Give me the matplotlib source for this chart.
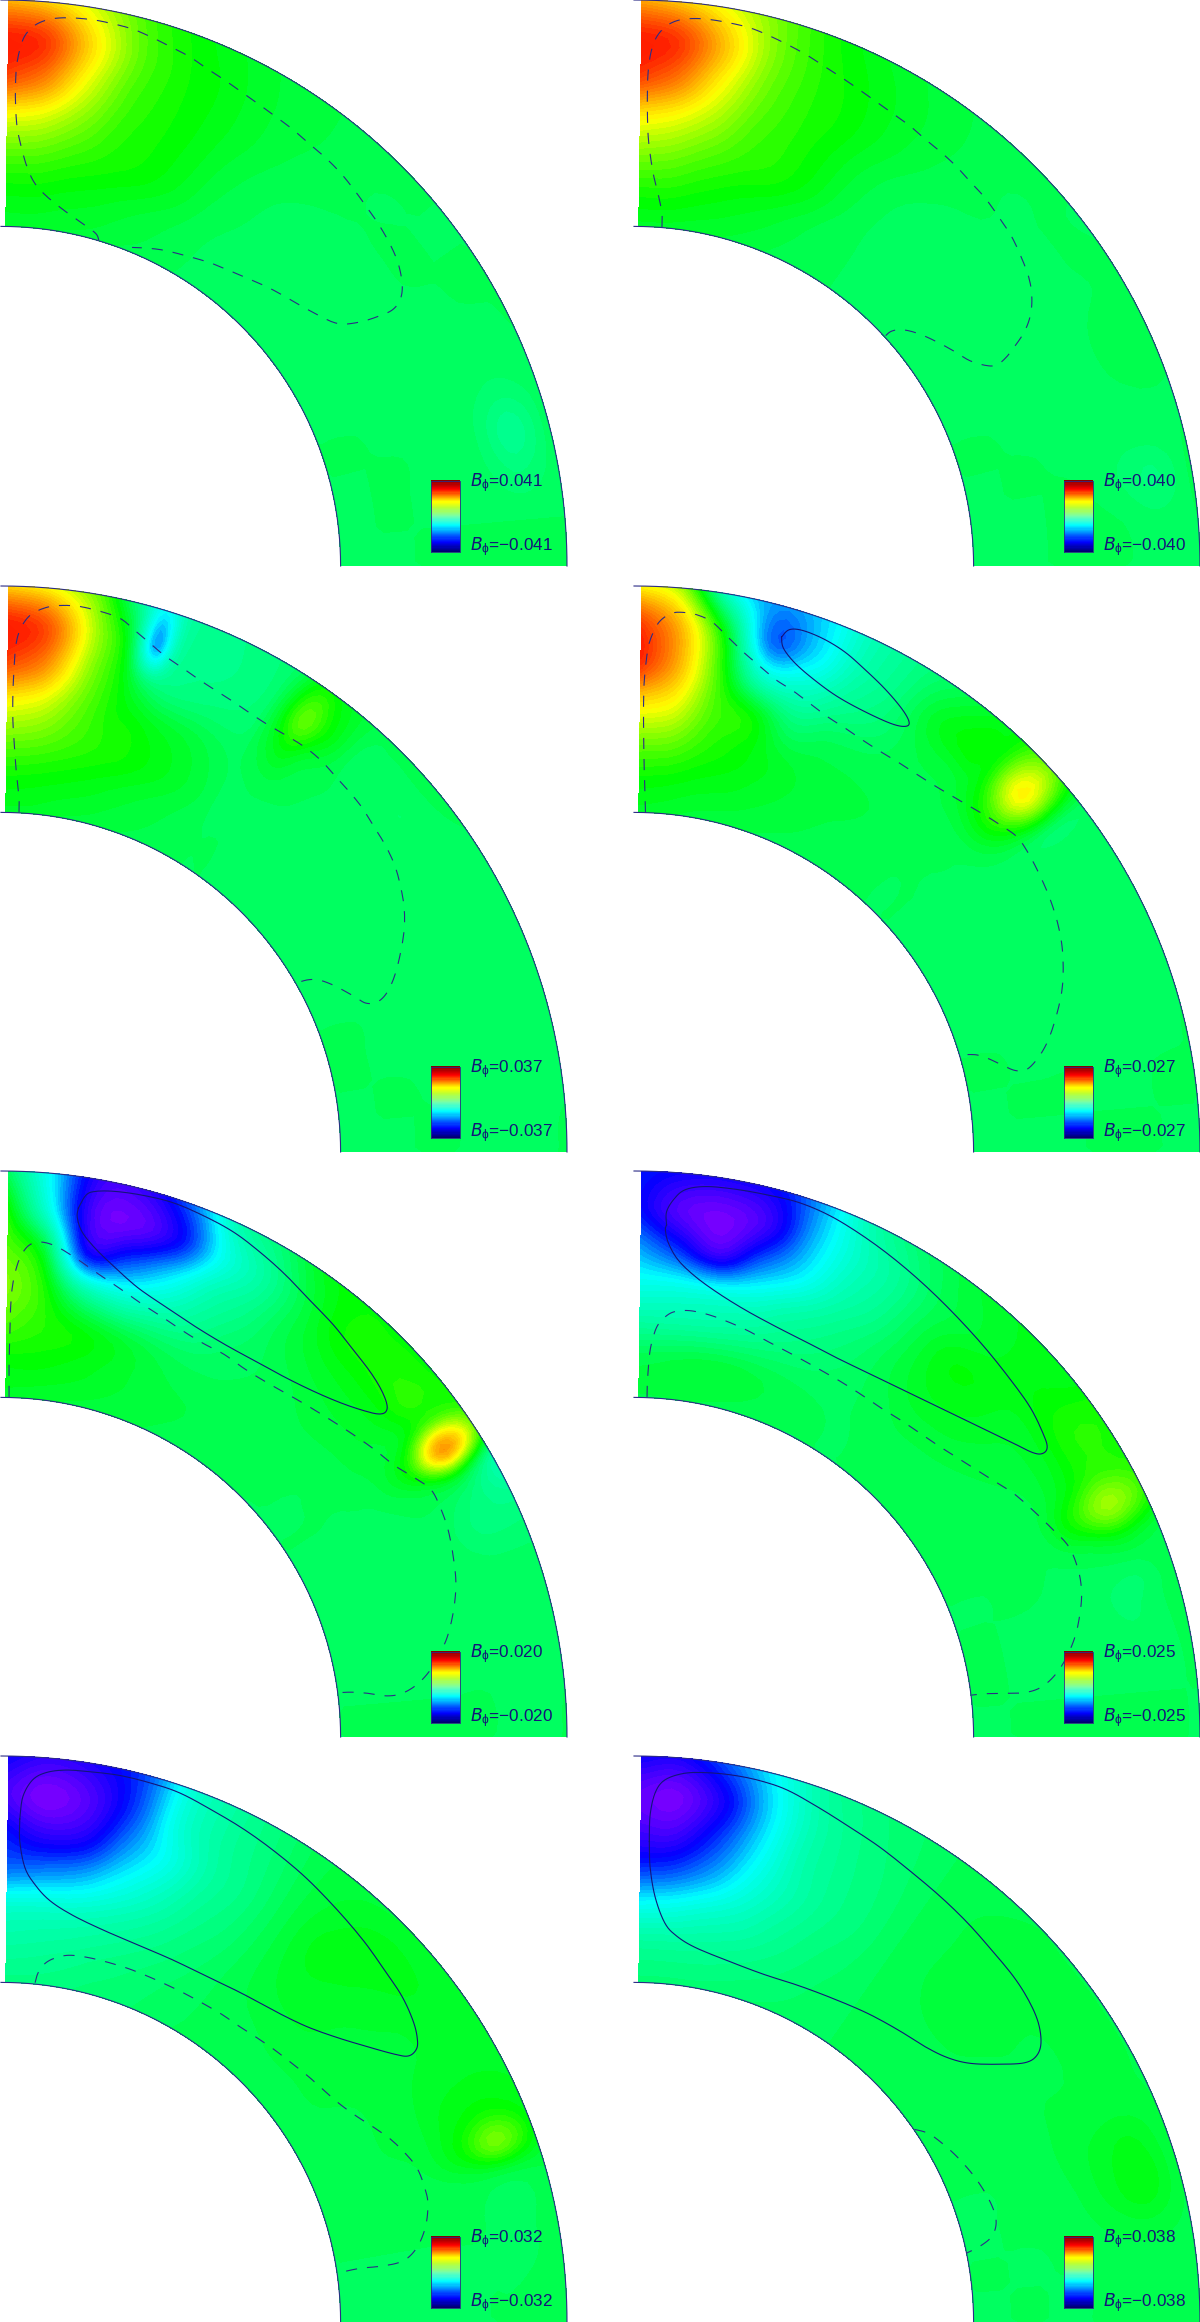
#!/usr/bin/env python3
# -*- coding: utf-8 -*-
'''
B_phi maps in the meridional quadrant, 4 rows x 2 columns.
Field values are given in percent of the panel maximum, read off the picture.
'''
import numpy as np
import matplotlib
matplotlib.use('Agg')
import matplotlib.pyplot as plt
from matplotlib.colors import LinearSegmentedColormap

plt.rcParams['mathtext.default'] = 'regular'

WIDTH, HEIGHT = 1200, 2322
R_OUT = 566.0

# grid nodes: colatitude (deg) along the columns, radius (outer=1) along the rows
THETA = [0.8, 5, 10, 15, 20, 25, 30, 35, 40, 45, 50, 55, 60, 65, 70, 75, 80, 85, 90]
# panels with narrow spots have a few more nodes around them
THETA_3 = [0.8, 5, 10, 14, 17, 20, 25, 30, 32, 35, 38, 42, 45, 50, 55, 60, 65, 70, 75, 80, 85, 90]
THETA_4 = [0.8, 5, 10, 15, 20, 25, 30, 35, 40, 43, 47.5, 52, 55, 60, 65, 70, 75, 80, 85, 90]
THETA_5 = [0.8, 5, 10, 15, 20, 25, 30, 35, 40, 45, 50, 53.5, 57, 60.5, 65, 70, 75, 80, 85, 90]
THETA_6 = [0.8, 5, 10, 15, 20, 25, 30, 35, 40, 45, 50, 55, 60, 64, 68, 72, 75, 80, 85, 90]
THETA_7 = [0.8, 5, 10, 15, 20, 25, 30, 35, 40, 45, 50, 55, 60, 66, 70, 74, 80, 85, 90]
RADIUS = [1.0, 0.933, 0.867, 0.8, 0.733, 0.667, 0.6]

FIELD_1 = [[65, 58, 42, 24, 15, 10, 6, 4, 2, 1, 0, 0, 0, 0, -1, -1, -1, 0, 0],
           [100, 93, 56, 28, 17, 12, 7, 4, 2, 0, 0, 0, 0, -1, -4, -12, -6, 0, 0],
           [90, 78, 47, 25, 17, 12, 7, 3, 1, 0, 0, 0, -1, -1, -2, -3, -2, 0, 0],
           [50, 46, 33, 21, 16, 11, 5, 1, -1, -2, -2, -2, -2, -2, -1, -1, -1, 0, 0],
           [27, 26, 21, 17, 14, 9, 3, 0, -1, -2, -2, -2, -2, -2, -1, 0, 0, 0, 0],
           [14, 14, 12, 10, 7, 4, 1, -1, -1, -1, -1, -1, -1, -1, 0, 0, 0, 0, 0],
           [7, 7, 6, 5, 3, 2, 0, 0, 0, 0, 0, 0, 0, 0, 0, 0, 0, 0, 0]]
FIELD_2 = [[68, 60, 46, 30, 18, 11, 7, 4, 2, 1, 0, 0, 0, 0, 0, 0, 1, 0, 0],
           [100, 93, 62, 33, 20, 14, 9, 5, 2, 0, 0, 0, 0, 1, 0, -1, -7, -2, 0],
           [92, 80, 52, 30, 20, 15, 9, 4, 1, 0, -1, -1, -1, -1, -1, -2, -3, 0, 0],
           [55, 50, 38, 25, 19, 13, 6, 1, -1, -2, -2, -2, -2, -2, -2, -1, 0, 1, 0],
           [33, 31, 25, 20, 17, 11, 4, 0, -1, -2, -2, -2, -2, -2, -1, 0, 0, 0, 0],
           [18, 18, 15, 12, 9, 5, 1, 0, -1, -1, -1, -1, -1, -1, 0, 0, 0, 0, 0],
           [8, 8, 7, 6, 4, 2, 1, 0, 0, 0, 0, 0, 0, 0, 0, 0, 0, 0, 0]]
FIELD_3 = [[58, 50, 28, -8, -40, -15, -10, -6, -1, 15, 10, 2, 1, 2, 0, -2, 0, -2, 0, -2, 0, 0],
           [100, 88, 40, 8, -52, -14, -10, -6, 4, 27, 14, -1, -2, -3, -2, -3, -2, -3, -2, -3, -1, 0],
           [90, 76, 36, 15, -5, -8, -6, -4, 3, 12, 4, 0, -1, -2, 0, -2, -1, -2, 0, -2, -1, 0],
           [52, 46, 28, 17, 13, 9, 5, 0, 0, 2, 1, -1, -1, -2, -2, -2, -2, -2, -2, -1, 0, 0],
           [30, 28, 22, 18, 16, 13, 8, 2, -1, -1, -2, -2, -3, -3, -3, -2, -2, -1, -1, 0, 0, 0],
           [16, 15, 13, 11, 9, 7, 4, 1, 0, 0, -1, -2, -2, -2, -2, -1, -1, 0, 0, 0, 0, 0],
           [8, 8, 6, 5, 4, 3, 2, 1, 0, 0, 0, 0, 0, 0, 0, 0, 0, 0, 0, 0, 0, 0]]
FIELD_4 = [[50, 35, -30, -55, -45, -22, -10, 0, 10, 14, 30, 0, -1, -2, -1, -1, 0, 0, 0, 0],
           [92, 65, 10, -60, -45, -20, -8, 8, 15, 16, 52, 0, -2, -2, -2, -1, -1, 0, 0, 0],
           [96, 68, 22, -25, -25, -12, -5, 3, 5, 10, 22, 0, -1, -2, -1, -1, -1, -1, 0, 0],
           [58, 50, 25, 14, -4, 0, 1, 2, 2, 2, 3, -1, -2, -2, -2, -2, -1, 0, 0, 0],
           [32, 30, 20, 14, 8, 5, 4, 3, 2, 1, 0, -2, -3, -3, -2, -2, -1, 0, 0, 0],
           [16, 15, 12, 10, 7, 5, 3, 2, 1, 0, 0, -1, -2, -2, -1, -1, 0, 0, 0, 0],
           [8, 7, 5, 4, 3, 2, 1, 0, 0, 0, 0, 0, 0, 0, 0, 0, 0, 0, 0, 0]]
FIELD_5 = [[-3, -40, -85, -85, -60, -20, -5, 10, 15, 15, 15, 18, 28, -18, -10, -3, -3, -1, 0, 0],
           [15, -30, -90, -95, -75, -35, -15, 3, 15, 17, 20, 22, 72, 5, -8, -3, -3, -2, -1, 0],
           [25, 5, -75, -65, -45, -22, -10, 2, 8, 10, 10, 8, 20, 3, -2, -2, -2, -1, 0, 0],
           [32, 20, -15, -25, -20, -12, -4, 0, 3, 5, 5, 4, 3, 0, -1, -2, -2, -1, 0, 0],
           [25, 20, 14, 8, 3, 0, 0, 1, 2, 2, 1, 1, 0, -1, -2, -2, -1, -1, 0, 0],
           [14, 14, 12, 9, 6, 4, 3, 2, 2, 1, 0, 0, 0, -1, -1, -2, -2, -1, 0, 0],
           [8, 7, 6, 5, 4, 3, 2, 1, 1, 0, 0, 0, 0, 0, 0, 0, 0, 0, 0, 0]]
FIELD_6 = [[-72, -78, -80, -75, -50, -20, -6, 3, 8, 10, 10, 18, 18, 22, 3, 3, 3, 1, 0, 0],
           [-75, -92, -98, -85, -50, -26, -13, 0, 6, 10, 13, 18, 20, 36, 8, -3, -3, -2, 0, 0],
           [-55, -70, -88, -62, -42, -22, -11, 2, 12, 12, 8, 8, 10, 18, 3, -2, -3, -2, 0, 0],
           [-35, -35, -35, -30, -20, -12, -5, 3, 9, 9, 6, 4, 2, 2, 0, -1, -2, -1, 0, 0],
           [-16, -16, -15, -12, -8, -5, -2, 1, 4, 4, 3, 2, 2, 1, 1, 0, -1, -1, 0, 0],
           [2, 3, 5, 5, 3, 1, 0, 0, 1, 1, 1, 1, 1, 1, 0, 0, 0, 0, 0, 0],
           [3, 3, 3, 2, 1, 0, 0, 0, 0, 0, 0, 0, 0, 0, 0, 0, 0, 0, 0, 0]]
FIELD_7 = [[-78, -85, -80, -65, -30, -15, -6, 2, 5, 6, 7, 8, 8, 10, 12, 3, 2, 1, 0],
           [-90, -100, -90, -65, -30, -15, -7, 2, 8, 11, 10, 8, 8, 14, 30, 1, -1, 0, 0],
           [-75, -85, -80, -55, -35, -17, -8, 2, 10, 10, 8, 6, 7, 11, 14, 2, 0, 0, 0],
           [-60, -58, -52, -38, -25, -13, -6, 2, 8, 8, 6, 5, 5, 5, 4, 1, 0, 0, 0],
           [-28, -27, -25, -20, -14, -8, -3, 2, 5, 6, 5, 4, 3, 3, 2, 1, 0, 0, 0],
           [-16, -15, -13, -10, -7, -4, -1, 1, 2, 3, 3, 3, 2, 2, 1, 1, 0, 0, 0],
           [-8, -8, -7, -5, -4, -2, 0, 0, 0, 0, 0, 0, 0, 0, 0, 0, 0, 0, 0]]
FIELD_8 = [[-78, -80, -62, -38, -16, -8, -4, 0, 2, 3, 3, 3, 3, 3, 3, 3, 2, 1, 0],
           [-95, -98, -78, -45, -20, -10, -5, 0, 3, 4, 4, 4, 4, 4, 10, 12, 4, 1, 0],
           [-88, -88, -68, -42, -20, -11, -6, 0, 3, 5, 4, 3, 3, 4, 7, 7, 3, 1, 0],
           [-68, -65, -52, -34, -20, -11, -6, 0, 3, 5, 4, 3, 3, 3, 3, 2, 1, 0, 0],
           [-36, -34, -28, -22, -14, -8, -4, 0, 2, 3, 3, 2, 2, 2, 1, 1, 0, 0, 0],
           [-14, -14, -13, -11, -8, -5, -2, 0, 1, 1, 1, 1, 1, 1, 0, 0, 0, 0, 0],
           [-5, -5, -5, -4, -3, -2, -1, 0, 0, 0, 0, 0, 0, 0, 0, 0, 0, 0, 0]]

DASH_1 = [(258, 650), (250, 632), (215, 605), (165, 568), (120, 530), (90, 495), (70, 450), (55, 395), (45, 345), (41, 285), (41, 225), (45, 170), (58, 115), (75, 85), (100, 65), (135, 53), (180, 50), (240, 55), (290, 65), (345, 80), (395, 102), (445, 128), (495, 155), (540, 187), (585, 217), (630, 250), (675, 283), (720, 317), (765, 352), (805, 388), (850, 428), (890, 470), (925, 515), (960, 565), (990, 610), (1020, 665), (1040, 715), (1050, 770), (1045, 810), (1025, 838), (990, 855), (945, 870), (900, 877), (870, 872), (835, 855), (790, 830), (745, 803), (700, 778), (650, 755), (600, 733), (550, 712), (495, 695), (430, 678), (385, 672), (345, 670)]
DASH_2 = [(163, 615), (163, 580), (155, 535), (142, 480), (133, 425), (127, 370), (125, 310), (125, 250), (127, 195), (135, 140), (150, 100), (175, 72), (205, 57), (245, 52), (290, 55), (345, 65), (395, 78), (440, 97), (490, 122), (540, 150), (585, 180), (630, 210), (675, 242), (720, 275), (765, 308), (810, 342), (850, 378), (890, 412), (930, 450), (965, 490), (1005, 535), (1040, 585), (1075, 640), (1100, 695), (1120, 750), (1128, 800), (1125, 850), (1110, 895), (1085, 935), (1060, 968), (1035, 988), (1005, 988), (965, 975), (925, 950), (890, 930), (850, 910), (815, 897), (785, 892), (760, 897), (743, 912)]
DASH_3 = [(50, 628), (50, 590), (43, 520), (38, 450), (34, 380), (34, 310), (37, 240), (42, 175), (55, 130), (80, 95), (115, 77), (150, 70), (200, 71), (250, 82), (300, 98), (325, 112), (350, 135), (390, 170), (430, 205), (475, 237), (520, 270), (565, 300), (610, 330), (655, 362), (700, 392), (750, 422), (800, 455), (840, 490), (875, 530), (910, 570), (945, 615), (975, 665), (1005, 715), (1030, 770), (1045, 825), (1055, 885), (1055, 945), (1045, 1010), (1030, 1070), (1010, 1115), (985, 1140), (955, 1143), (925, 1125), (890, 1105), (860, 1090), (830, 1080), (805, 1080), (785, 1085)]
DASH_4 = [(120, 628), (118, 560), (116, 480), (115, 400), (115, 330), (117, 270), (125, 195), (135, 155), (155, 115), (185, 92), (215, 88), (255, 95), (295, 115), (335, 155), (375, 195), (420, 235), (460, 270), (505, 300), (550, 335), (595, 370), (640, 400), (685, 432), (730, 462), (775, 490), (820, 520), (865, 550), (910, 578), (955, 605), (1000, 632), (1050, 665), (1090, 695), (1120, 740), (1150, 800), (1175, 860), (1195, 925), (1207, 990), (1210, 1060), (1205, 1120), (1190, 1185), (1170, 1245), (1145, 1290), (1115, 1322), (1085, 1325), (1050, 1310), (1015, 1293), (985, 1283), (960, 1282)]
DASH_5 = [(24, 640), (24, 560), (26, 470), (28, 400), (33, 340), (45, 285), (60, 250), (80, 228), (110, 222), (150, 235), (205, 270), (260, 310), (310, 345), (365, 385), (425, 425), (475, 460), (530, 495), (585, 525), (640, 565), (695, 600), (755, 635), (805, 665), (860, 700), (920, 740), (975, 780), (1030, 825), (1085, 860), (1125, 890), (1150, 940), (1170, 1000), (1183, 1070), (1190, 1140), (1185, 1210), (1170, 1280), (1150, 1330), (1125, 1375), (1090, 1415), (1050, 1440), (1010, 1447), (960, 1440), (920, 1437), (890, 1438)]
DASH_6 = [(124, 640), (125, 600), (130, 530), (137, 490), (150, 450), (170, 425), (195, 410), (235, 407), (285, 418), (335, 437), (385, 460), (435, 488), (485, 515), (535, 543), (585, 572), (635, 602), (685, 635), (735, 670), (785, 702), (835, 737), (885, 772), (935, 805), (985, 838), (1030, 867), (1080, 900), (1130, 945), (1180, 995), (1225, 1045), (1250, 1110), (1258, 1170), (1253, 1230), (1240, 1290), (1215, 1350), (1185, 1395), (1150, 1425), (1110, 1438), (1060, 1440), (1010, 1441), (970, 1445)]
DASH_7 = [(92, 652), (100, 625), (118, 600), (145, 585), (180, 578), (225, 583), (275, 595), (330, 612), (380, 632), (430, 655), (480, 680), (530, 708), (580, 738), (625, 770), (670, 800), (715, 832), (760, 868), (805, 905), (845, 942), (885, 978), (930, 1012), (975, 1042), (1020, 1075), (1060, 1115), (1090, 1155), (1110, 1210), (1117, 1250), (1112, 1305), (1095, 1355), (1070, 1390), (1040, 1408), (990, 1418), (940, 1423), (885, 1435)]
DASH_8 = [(822, 1048), (860, 1060), (905, 1095), (945, 1135), (985, 1185), (1020, 1245), (1035, 1295), (1025, 1335), (995, 1362), (958, 1382)]
SOLID_4 = [(475, 155), (480, 185), (510, 225), (560, 270), (620, 315), (690, 355), (760, 388), (797, 396), (808, 385), (790, 350), (745, 295), (690, 240), (640, 195), (585, 160), (530, 137), (495, 135), (475, 155)]
SOLID_5 = [(205, 130), (202, 155), (215, 195), (250, 240), (300, 290), (360, 345), (430, 395), (510, 450), (590, 500), (670, 545), (750, 590), (830, 630), (900, 660), (960, 680), (990, 686), (1007, 680), (1010, 660), (995, 620), (965, 570), (920, 510), (870, 445), (810, 380), (745, 310), (680, 250), (610, 195), (530, 150), (450, 115), (370, 95), (300, 85), (250, 85), (225, 95), (205, 130)]
SOLID_6 = [(175, 175), (172, 190), (180, 225), (205, 270), (250, 315), (310, 360), (380, 405), (460, 450), (540, 492), (620, 535), (700, 575), (790, 620), (880, 665), (980, 715), (1080, 765), (1130, 790), (1155, 793), (1168, 778), (1160, 745), (1125, 670), (1070, 590), (1000, 500), (920, 410), (840, 330), (760, 260), (680, 200), (600, 150), (520, 115), (440, 95), (360, 80), (280, 72), (225, 80), (195, 105), (175, 140), (175, 175)]
SOLID_7 = [(52, 210), (52, 270), (65, 340), (90, 385), (130, 430), (190, 470), (270, 510), (360, 550), (450, 590), (540, 635), (630, 680), (720, 730), (800, 770), (880, 800), (960, 825), (1030, 845), (1065, 850), (1085, 835), (1090, 810), (1080, 760), (1050, 690), (1005, 620), (950, 540), (880, 455), (800, 370), (720, 300), (640, 240), (560, 190), (470, 140), (390, 112), (310, 92), (230, 82), (170, 78), (120, 85), (85, 105), (60, 150), (52, 210)]
SOLID_8 = [(130, 270), (132, 340), (145, 420), (170, 490), (200, 525), (250, 557), (340, 595), (430, 630), (520, 660), (610, 695), (700, 735), (780, 780), (850, 825), (910, 855), (970, 870), (1050, 872), (1110, 868), (1140, 850), (1152, 815), (1145, 760), (1120, 700), (1080, 635), (1020, 560), (960, 490), (890, 420), (810, 350), (730, 285), (650, 230), (570, 178), (490, 132), (420, 107), (350, 92), (280, 85), (220, 87), (170, 105), (145, 140), (132, 200), (130, 270)]

B_MAX = ['0.041', '0.040', '0.037', '0.027', '0.020', '0.025', '0.032', '0.038']
THETAS = [THETA, THETA, THETA_3, THETA_4, THETA_5, THETA_6, THETA_7, THETA]
FIELDS = [FIELD_1, FIELD_2, FIELD_3, FIELD_4, FIELD_5, FIELD_6, FIELD_7, FIELD_8]
DASHED = [DASH_1, DASH_2, DASH_3, DASH_4, DASH_5, DASH_6, DASH_7, DASH_8]
SOLID = [None, None, None, SOLID_4, SOLID_5, SOLID_6, SOLID_7, SOLID_8]

# panel centres in figure pixels, and in the crop pixels of the curves above
CENTER_X = [1, 634]
CENTER_Y = [566, 1152, 1737, 2322]
CROP_CX = [3, 90]
CROP_CY = [1530, 1545, 1558, 1568]

NAVY = '#14147a'
LINE = '#2c2c86'

field_cmap = LinearSegmentedColormap.from_list('field', [
    (0.0, (125/255, 0, 1)), (0.125, (0, 0, 1)), (0.3, (0, 1, 1)), (0.45, (0, 1, 140/255)),
    (0.5, (0, 1, 90/255)), (0.575, (0, 1, 0)), (0.75, (1, 1, 0)), (0.875, (1, 140/255, 0)),
    (1.0, (1, 30/255, 0))], N=256)
bar_cmap = LinearSegmentedColormap.from_list('bar', [
    (0.0, (0, 0, 110/255)), (0.13, (0, 0, 1)), (0.25, (0, 120/255, 1)), (0.37, (0, 1, 1)),
    (0.5, (120/255, 1, 170/255)), (0.62, (190/255, 1, 50/255)), (0.7, (1, 1, 0)),
    (0.78, (1, 150/255, 0)), (0.88, (1, 0, 0)), (1.0, (130/255, 0, 0))], N=256)
levels = np.linspace(-1.0, 1.0, 65)


def refine(y, n):
    '''Catmull-Rom smoothing through the read values, for drawing only'''
    y = np.asarray(y, dtype=float)
    p = np.concatenate([y[:1], y, y[-1:]], axis=0)
    t = np.linspace(0, len(y)-1, (len(y)-1)*n+1)
    i = np.minimum(t.astype(int), len(y)-2)
    u = (t-i).reshape((-1,)+(1,)*(y.ndim-1))
    p0, p1, p2, p3 = p[i], p[i+1], p[i+2], p[i+3]
    return 0.5*(2*p1 + (p2-p0)*u + (2*p0-5*p1+4*p2-p3)*u**2 + (3*p1-p0-3*p2+p3)*u**3)


def crop_to_axes(points, row, col):
    xy = refine(points, 6)
    return (xy[:, 0]-CROP_CX[col])/1477.0, (CROP_CY[row]-xy[:, 1])/1528.0


fig = plt.figure(figsize=(WIDTH/100, HEIGHT/100), dpi=100)
radius_fine = refine(RADIUS, 5)
arc = np.radians(np.linspace(0, 90, 400))

for k in range(8):
    row, col = k//2, k % 2
    ax = fig.add_axes([CENTER_X[col]/WIDTH, 1-CENTER_Y[row]/HEIGHT, R_OUT/WIDTH, R_OUT/HEIGHT])
    ax.set_xlim(0, 1)
    ax.set_ylim(0, 1)
    ax.axis('off')

    theta_fine = np.radians(refine(THETAS[k], 5))
    values = refine(refine(np.array(FIELDS[k])/100.0, 5).T, 5).T
    T, R = np.meshgrid(theta_fine, radius_fine)
    ax.contourf(R*np.sin(T), R*np.cos(T), values, levels=levels, cmap=field_cmap,
                vmin=-1, vmax=1, extend='both', zorder=1)

    # star surface and base of the zone
    for radius in (RADIUS[0], RADIUS[-1]):
        ax.plot(radius*np.sin(arc), radius*np.cos(arc), color=LINE, lw=0.8, zorder=3, clip_on=False)

    x, y = crop_to_axes(DASHED[k], row, col)
    ax.plot(x, y, color=LINE, lw=0.8, linestyle=(0, (10, 9)), zorder=3)
    if SOLID[k] is not None:
        x, y = crop_to_axes(SOLID[k], row, col)
        ax.plot(x, y, color=NAVY, lw=0.8, zorder=3)

    # little colour bar with its two labels
    ramp = np.linspace(0, 1, 64).reshape(-1, 1)
    ax.imshow(ramp, cmap=bar_cmap, origin='lower', extent=[0.76, 0.811, 0.025, 0.151],
              aspect='auto', zorder=4, interpolation='nearest')
    ax.plot([0.76, 0.811, 0.811, 0.76, 0.76], [0.025, 0.025, 0.151, 0.151, 0.025], color=LINE, lw=0.6, zorder=5)
    ax.set_xlim(0, 1)
    ax.set_ylim(0, 1)
    ax.text(0.829, 0.146, r'$\mathit{B}_{\phi}$=' + B_MAX[k], color=NAVY, fontsize=12.3,
            family='Liberation Sans', va='center', ha='left', zorder=6)
    ax.text(0.829, 0.033, r'$\mathit{B}_{\phi}$=' + '\u2212' + B_MAX[k], color=NAVY, fontsize=12.3,
            family='Liberation Sans', va='center', ha='left', zorder=6)

fig.savefig('out.png', dpi=100, facecolor='white')
